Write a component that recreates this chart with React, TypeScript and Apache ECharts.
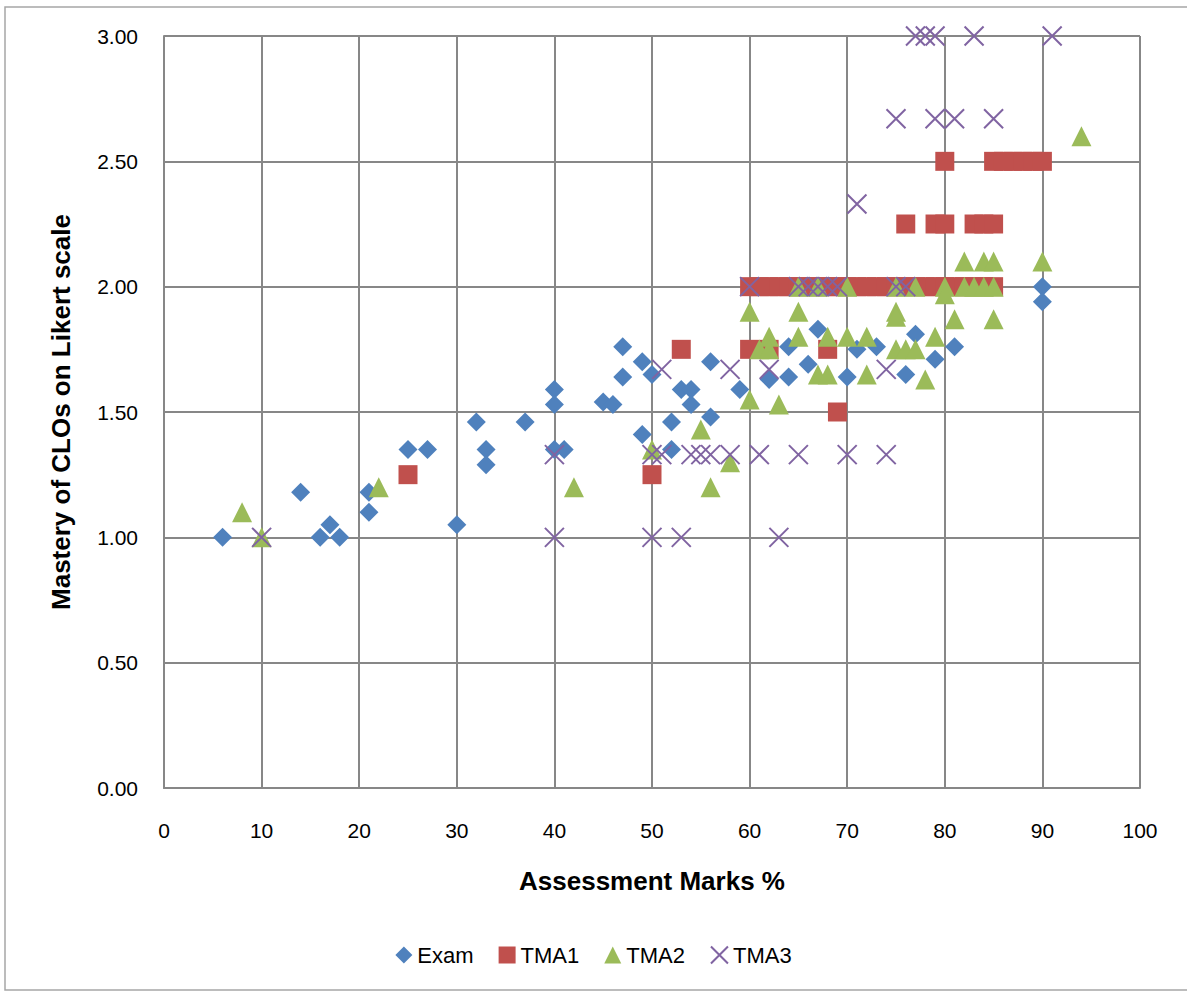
import React, { useEffect, useRef } from "react";
import * as echarts from "echarts";

const xTicks = [0, 10, 20, 30, 40, 50, 60, 70, 80, 90, 100];
const yTicks = [0, 0.5, 1, 1.5, 2, 2.5, 3];

const examPoints: [number, number][] = [
  [6, 1.0], [14, 1.18], [16, 1.0], [17, 1.05], [18, 1.0], [21, 1.18], [21, 1.1],
  [25, 1.35], [27, 1.35], [30, 1.05], [32, 1.46], [33, 1.35], [33, 1.29], [37, 1.46],
  [40, 1.59], [40, 1.53], [40, 1.35], [41, 1.35], [45, 1.54], [46, 1.53], [47, 1.76],
  [47, 1.64], [49, 1.7], [49, 1.41], [50, 1.65], [52, 1.46], [52, 1.35], [53, 1.59],
  [54, 1.59], [54, 1.53], [56, 1.7], [56, 1.48], [59, 1.59], [62, 1.63], [64, 1.76],
  [64, 1.64], [66, 1.69], [67, 1.83], [70, 1.64], [71, 1.75], [73, 1.76], [76, 1.65],
  [77, 1.81], [79, 1.71], [81, 1.76], [90, 2.0], [90, 1.94],
];

const tma1Points: [number, number][] = [
  [25, 1.25], [50, 1.25], [53, 1.75], [60, 1.75], [62, 1.75], [68, 1.75], [69, 1.5],
  [60, 2.0], [61, 2.0], [62, 2.0], [63, 2.0], [64, 2.0], [65, 2.0], [66, 2.0], [67, 2.0],
  [68, 2.0], [69, 2.0], [70, 2.0], [71, 2.0], [72, 2.0], [73, 2.0], [74, 2.0], [75, 2.0],
  [76, 2.0], [77, 2.0], [78, 2.0], [79, 2.0], [80, 2.0], [81, 2.0], [82, 2.0], [83, 2.0],
  [84, 2.0], [85, 2.0],
  [76, 2.25], [79, 2.25], [80, 2.25], [83, 2.25], [84, 2.25], [85, 2.25],
  [80, 2.5], [85, 2.5], [86, 2.5], [87, 2.5], [88, 2.5], [89, 2.5], [90, 2.5],
];

const tma2Points: [number, number][] = [
  [8, 1.1], [10, 1.0], [22, 1.2], [42, 1.2], [50, 1.35], [55, 1.43], [56, 1.2], [58, 1.3],
  [60, 1.9], [60, 1.55], [61, 1.75], [62, 1.8], [62, 1.75], [63, 1.53], [65, 2.0], [65, 1.9],
  [65, 1.8], [67, 2.0], [67, 1.65], [68, 1.65], [68, 1.8], [70, 2.0], [70, 1.8], [72, 1.8],
  [72, 1.65], [75, 2.0], [75, 1.9], [75, 1.88], [75, 1.75], [76, 1.75], [77, 1.75], [77, 2.0],
  [78, 1.63], [79, 1.8], [80, 2.0], [80, 1.97], [81, 1.87], [82, 2.1], [82, 2.0], [83, 2.0],
  [84, 2.1], [84, 2.0], [85, 2.1], [85, 2.0], [85, 1.87], [90, 2.1], [94, 2.6],
];

const tma3Points: [number, number][] = [
  [10, 1.0], [40, 1.0], [40, 1.33], [50, 1.0], [50, 1.33], [51, 1.67], [51, 1.33], [53, 1.0],
  [54, 1.33], [55, 1.33], [56, 1.33], [58, 1.33], [58, 1.67], [60, 2.0], [61, 1.33], [62, 1.67],
  [63, 1.0], [65, 1.33], [65, 2.0], [66, 2.0], [67, 2.0], [68, 2.0], [69, 2.0], [70, 1.33],
  [71, 2.33], [74, 1.33], [74, 1.67], [75, 2.0], [76, 2.0], [75, 2.67], [79, 2.67], [81, 2.67],
  [85, 2.67], [77, 3.0], [78, 3.0], [79, 3.0], [83, 3.0], [91, 3.0],
];

const FONT = "'Liberation Sans', Arial, sans-serif";
const GRID_COLOR = "#878787";

export default function App() {
  const ref = useRef<HTMLDivElement>(null);
  useEffect(() => {
    document.body.style.margin = "0";
    if (!ref.current) return;
    const chart = echarts.init(ref.current, undefined, { renderer: "svg" });
    chart.setOption({
      animation: false,
      backgroundColor: "#ffffff",
      textStyle: { fontFamily: FONT },
      graphic: [
        {
          type: "rect",
          shape: { x: 5, y: 7, width: 1200, height: 983 },
          style: { fill: "none", stroke: "#a6a6a6", lineWidth: 1.5 },
          silent: true,
        },
      ],
      grid: { left: 164, top: 36, width: 976, height: 752, containLabel: false },
      xAxis: {
        type: "value",
        min: xTicks[0],
        max: xTicks[xTicks.length - 1],
        interval: 10,
        name: "Assessment Marks %",
        nameLocation: "middle",
        nameGap: 80,
        nameTextStyle: { fontSize: 26, fontWeight: "bold", color: "#000", fontFamily: FONT },
        axisLine: { show: true, lineStyle: { color: GRID_COLOR, width: 2 } },
        axisTick: { show: false },
        axisLabel: { fontSize: 21, color: "#000", margin: 32, fontFamily: FONT },
        splitLine: { show: true, lineStyle: { color: GRID_COLOR, width: 2 } },
      },
      yAxis: {
        type: "value",
        min: yTicks[0],
        max: yTicks[yTicks.length - 1],
        interval: 0.5,
        name: "Mastery of CLOs on Likert scale",
        nameLocation: "middle",
        nameGap: 90,
        nameRotate: 90,
        nameTextStyle: { fontSize: 26, fontWeight: "bold", color: "#000", fontFamily: FONT },
        axisLine: { show: true, lineStyle: { color: GRID_COLOR, width: 2 } },
        axisTick: { show: false },
        axisLabel: {
          fontSize: 21,
          color: "#000",
          margin: 26,
          fontFamily: FONT,
          formatter: (v: number) => v.toFixed(2),
        },
        splitLine: { show: true, lineStyle: { color: GRID_COLOR, width: 2 } },
      },
      legend: {
        top: 939,
        left: "center",
        itemWidth: 17,
        itemHeight: 17,
        itemGap: 25,
        textStyle: { fontSize: 22, color: "#000", fontFamily: FONT },
        data: ["Exam", "TMA1", "TMA2", "TMA3"],
      },
      series: [
        {
          name: "Exam",
          type: "scatter",
          symbol: "diamond",
          symbolSize: 19,
          itemStyle: { color: "#4F81BD", opacity: 1 },
          data: examPoints,
        },
        {
          name: "TMA1",
          type: "scatter",
          symbol: "rect",
          symbolSize: 19,
          itemStyle: { color: "#C0504D", opacity: 1 },
          data: tma1Points,
        },
        {
          name: "TMA2",
          type: "scatter",
          symbol: "triangle",
          symbolSize: 20,
          itemStyle: { color: "#9BBB59", opacity: 1 },
          data: tma2Points,
        },
        {
          name: "TMA3",
          type: "scatter",
          symbol: "path://M0 0L20 20M20 0L0 20",
          symbolSize: 19,
          itemStyle: { color: "rgba(0,0,0,0)", borderColor: "#8064A2", borderWidth: 2, opacity: 1 },
          data: tma3Points,
        },
      ],
    });
    return () => chart.dispose();
  }, []);
  return <div ref={ref} style={{ width: 1187, height: 992 }} />;
}
